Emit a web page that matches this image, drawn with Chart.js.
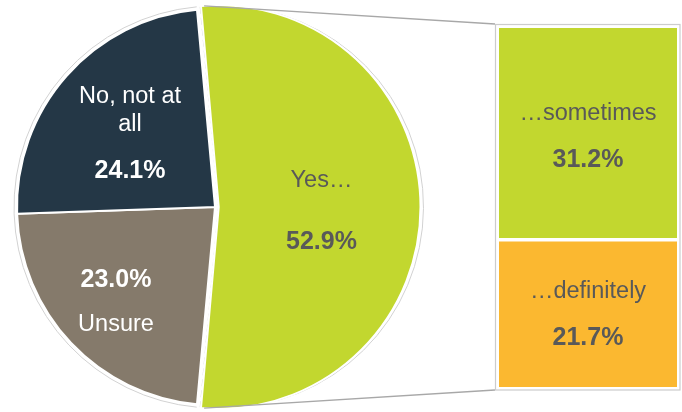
<!DOCTYPE html>
<html><head><meta charset="utf-8">
<script src="https://cdn.jsdelivr.net/npm/chart.js@4/dist/chart.umd.min.js"></script>
<style>
html,body{margin:0;padding:0;background:#fff;overflow:hidden;width:682px;height:412px;}
#wrap{position:relative;width:682px;height:412px;}
#pie{position:absolute;left:0;top:0;}
#bar{position:absolute;left:490px;top:0;}
</style></head>
<body><div id="wrap"><canvas id="pie" width="682" height="412"></canvas><canvas id="bar" width="192" height="412"></canvas></div>
<script>
// ---- data ----
const pieCategories = ['Yes…', 'Unsure', 'No, not at all'];
const pieValues = [52.9, 23.0, 24.1];
const barCategories = ['…definitely', '…sometimes'];
const barValues = [21.7, 31.2];

// ---- styles ----
const pieColors = ['#c2d72f', '#857a6b', '#243746'];
const barColors = ['#fbb830', '#c2d72f'];
const pieTextColors = ['#595959', '#ffffff', '#ffffff'];
const pieLabelLines = [['Yes…'], ['Unsure'], ['No, not at', 'all']];
const REG = '23.5px "Liberation Sans", Arial, sans-serif';
const BOLD = 'bold 25px "Liberation Sans", Arial, sans-serif';
const fmt = v => v.toFixed(1) + '%';

// bar chart
const barChart = new Chart(document.getElementById('bar'), {
  type: 'bar',
  data: {
    labels: ['Yes'],
    datasets: barCategories.map((c, i) => ({
      label: c,
      data: [barValues[i]],
      backgroundColor: barColors[i],
      borderColor: '#ffffff',
      borderWidth: i === 0 ? {top: 2, left: 0, right: 0, bottom: 0} : {top: 0, left: 0, right: 0, bottom: 2},
      borderSkipped: false,
      barPercentage: 1, categoryPercentage: 1
    }))
  },
  options: {
    responsive: false, animation: false,
    layout: {padding: {left: 9, right: 5, top: 28, bottom: 25}},
    plugins: {legend: {display: false}, tooltip: {enabled: false}},
    scales: {
      x: {display: false, stacked: true},
      y: {display: false, stacked: true, min: 0, max: barValues.reduce((a, b) => a + b, 0)}
    }
  },
  plugins: [{
    id: 'barDeco',
    afterDatasetsDraw(chart) {
      const ctx = chart.ctx, a = chart.chartArea;
      ctx.save();
      ctx.strokeStyle = '#cccccc'; ctx.lineWidth = 1.2;
      ctx.strokeRect(a.left - 3.5, a.top - 3.5, a.right - a.left + 6.5, a.bottom - a.top + 6.5);
      ctx.textAlign = 'center'; ctx.textBaseline = 'alphabetic'; ctx.fillStyle = '#595959';
      const offs = [[-15, 32], [-13.5, 33.5]];
      chart.data.datasets.forEach((ds, i) => {
        const el = chart.getDatasetMeta(i).data[0];
        const cy = (el.y + el.base) / 2, cx = el.x;
        ctx.font = REG; ctx.fillText(barCategories[i], cx, cy + offs[i][0]);
        ctx.font = BOLD; ctx.fillText(fmt(barValues[i]), cx, cy + offs[i][1]);
      });
      ctx.restore();
    }
  }]
});

const R = 198, OFF = 7.5; // OFF: visible shift of the exploded slice in px
const labelAnchors = [[0.5, 0.04], [-0.5, 0.495], [-0.429, -0.354]];
const lineOffsets = [[-28, 34], [26, -18], [-34, -6, 41]];

new Chart(document.getElementById('pie'), {
  type: 'pie',
  data: {
    labels: pieCategories,
    datasets: [{
      data: pieValues,
      backgroundColor: pieColors,
      borderColor: '#ffffff',
      borderWidth: 2,
      offset: [OFF * 2, 0, 0],
      radius: R
    }]
  },
  options: {
    responsive: false, animation: false,
    rotation: 90 - (pieValues[0] / pieValues.reduce((a, b) => a + b, 0) * 360) / 2,
    radius: R,
    layout: {padding: {left: 0, right: 252, top: 2, bottom: 0}},
    plugins: {legend: {display: false}, tooltip: {enabled: false}}
  },
  plugins: [{
    id: 'pieDeco',
    beforeDatasetsDraw(chart) {
      const ctx = chart.ctx;
      const meta = chart.getDatasetMeta(0);
      ctx.save();
      ctx.strokeStyle = '#d2d2d2'; ctx.lineWidth = 1;
      meta.data.forEach((el, i) => {
        const p = el.getProps(['x', 'y', 'startAngle', 'endAngle', 'outerRadius']);
        const mid = (p.startAngle + p.endAngle) / 2;
        const o = i === 0 ? OFF : 0;
        const cx = p.x + o * Math.cos(mid), cy = p.y + o * Math.sin(mid);
        ctx.beginPath();
        ctx.arc(cx, cy, p.outerRadius + 3, p.startAngle, p.endAngle);
        ctx.stroke();
        if (i === 0) {
          ctx.setLineDash([7, 4]);
          ctx.beginPath();
          ctx.moveTo(cx - 4 + (p.outerRadius + 3) * Math.cos(p.startAngle), cy + (p.outerRadius + 3) * Math.sin(p.startAngle));
          ctx.lineTo(cx - 4, cy);
          ctx.lineTo(cx - 4 + (p.outerRadius + 3) * Math.cos(p.endAngle), cy + (p.outerRadius + 3) * Math.sin(p.endAngle));
          ctx.stroke();
          ctx.setLineDash([]);
        }
      });
      ctx.restore();
    },
    afterDatasetsDraw(chart) {
      const ctx = chart.ctx;
      const meta = chart.getDatasetMeta(0);
      ctx.save();
      // connector lines
      const y0 = meta.data[0].getProps(['x', 'y', 'startAngle', 'endAngle', 'outerRadius']);
      const mid0 = (y0.startAngle + y0.endAngle) / 2;
      const vx = y0.x + OFF * Math.cos(mid0), vy = y0.y + OFF * Math.sin(mid0);
      const rr = y0.outerRadius + 4;
      const ba = barChart.chartArea, bx = 490;
      ctx.strokeStyle = '#a8a8a8'; ctx.lineWidth = 1.3;
      ctx.beginPath();
      ctx.moveTo(vx + rr * Math.cos(y0.startAngle), vy + rr * Math.sin(y0.startAngle));
      ctx.lineTo(bx + ba.left - 4, ba.top - 4);
      ctx.moveTo(vx + rr * Math.cos(y0.endAngle), vy + rr * Math.sin(y0.endAngle));
      ctx.lineTo(bx + ba.left - 4, ba.bottom + 3);
      ctx.stroke();
      // labels
      ctx.textAlign = 'center'; ctx.textBaseline = 'alphabetic';
      meta.data.forEach((el, i) => {
        const p = el.getProps(['x', 'y', 'startAngle', 'endAngle', 'outerRadius']);
        const mid = (p.startAngle + p.endAngle) / 2;
        const o = i === 0 ? OFF : 0;
        const cx = p.x + o * Math.cos(mid), cy = p.y + o * Math.sin(mid);
        const ax = cx + labelAnchors[i][0] * p.outerRadius, ay = cy + labelAnchors[i][1] * p.outerRadius;
        ctx.fillStyle = pieTextColors[i];
        const lines = pieLabelLines[i];
        const offs = lineOffsets[i];
        lines.forEach((t, k) => { ctx.font = REG; ctx.fillText(t, ax, ay + offs[k]); });
        ctx.font = BOLD; ctx.fillText(fmt(pieValues[i]), ax, ay + offs[lines.length]);
      });
      ctx.restore();
    }
  }]
});
</script></body></html>
